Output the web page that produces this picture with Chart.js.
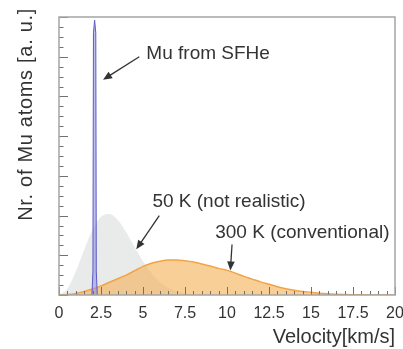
<!DOCTYPE html>
<html>
<head>
<meta charset="utf-8">
<script src="https://cdn.jsdelivr.net/npm/chart.js@4.4.1/dist/chart.umd.min.js"></script>
<style>
  html, body { margin: 0; padding: 0; background: #fff; }
  #wrap { width: 403px; height: 349px; }
</style>
</head>
<body>
<div id="wrap"><canvas id="chart" width="403" height="349"></canvas></div>
<script>
// velocity grid [km/s] (arbitrary units)
const velocities = [0, 0.5, 1, 1.5, 2, 2.5, 3, 3.5, 4, 4.5, 5, 5.5, 6, 6.5, 7, 7.5, 8, 8.5, 9, 9.5,
  10, 10.5, 11, 11.5, 12, 12.5, 13, 13.5, 14, 14.5, 15, 15.5, 16, 16.5, 17, 17.5, 18, 18.5, 19, 19.5, 20];
const counts50K = [0, 0.16, 0.59, 1.14, 1.65, 1.97, 2.04, 1.89, 1.58, 1.21, 0.85, 0.55, 0.33, 0.18, 0.10, 0.05, 0.02, 0, 0, 0,
  0, 0, 0, 0, 0, 0, 0, 0, 0, 0, 0, 0, 0, 0, 0, 0, 0, 0, 0, 0, 0];
const counts300K = [0, 0.01, 0.04, 0.09, 0.15, 0.23, 0.32, 0.41, 0.50, 0.61, 0.72, 0.80, 0.85, 0.88, 0.88, 0.86, 0.83, 0.78, 0.73, 0.67,
  0.62, 0.55, 0.47, 0.40, 0.33, 0.27, 0.21, 0.16, 0.12, 0.09, 0.07, 0.045, 0.03, 0.02, 0.012, 0.007, 0.004, 0.002, 0.001, 0, 0];

// narrow Mu peak from superfluid He
const muVelocities = [1.96, 2.02, 2.05, 2.12, 2.19, 2.22, 2.28];
const muCounts = [0, 0.6, 6.6, 6.92, 6.6, 0.6, 0];

const xTickLabels = ["0", "2.5", "5", "7.5", "10", "12.5", "15", "17.5", "20"];

const textColor = "#333";
const fontName = "'Liberation Sans', Arial, Helvetica, sans-serif";

const toPoints = (xs, ys) => xs.map((v, i) => ({ x: v, y: ys[i] }));

// labels with arrows, placed in data coordinates
const notes = [
  { text: "Mu from SFHe", tx: 5.2, ty: 6.07, from: [4.78, 6.0], to: [2.62, 5.42] },
  { text: "50 K (not realistic)", tx: 5.56, ty: 2.35, from: [5.97, 2.0], to: [4.6, 1.15] },
  { text: "300 K (conventional)", tx: 9.3, ty: 1.57, from: [10.3, 1.27], to: [10.2, 0.62] },
];

const decorPlugin = {
  id: "decor",
  afterDatasetsDraw(chart) {
    const { ctx, chartArea: a, scales: { x, y } } = chart;
    ctx.save();

    // inward tick marks
    ctx.strokeStyle = "#707070";
    ctx.lineWidth = 1;
    for (let v = 0; v <= 20.001; v += 0.5) {
      const px = Math.round(x.getPixelForValue(v)) + 0.5;
      const len = Math.abs(v / 2.5 - Math.round(v / 2.5)) < 1e-6 ? 8 : 4;
      ctx.beginPath();
      ctx.moveTo(px, a.bottom);
      ctx.lineTo(px, a.bottom - len);
      ctx.stroke();
    }
    for (let v = 0; v <= 7.001; v += 0.25) {
      const py = Math.round(y.getPixelForValue(v)) + 0.5;
      const len = Math.abs(v - Math.round(v)) < 1e-6 ? 9 : 4.5;
      ctx.beginPath();
      ctx.moveTo(a.left, py);
      ctx.lineTo(a.left + len, py);
      ctx.stroke();
    }

    // frame
    ctx.strokeStyle = "#a5a5a5";
    ctx.lineWidth = 1.5;
    ctx.strokeRect(a.left, a.top, a.right - a.left, a.bottom - a.top);

    // annotations
    ctx.fillStyle = textColor;
    ctx.strokeStyle = "#333";
    ctx.font = "19px " + fontName;
    ctx.textBaseline = "middle";
    ctx.textAlign = "left";
    notes.forEach(n => {
      ctx.fillText(n.text, x.getPixelForValue(n.tx), y.getPixelForValue(n.ty));
      const x1 = x.getPixelForValue(n.from[0]), y1 = y.getPixelForValue(n.from[1]);
      const x2 = x.getPixelForValue(n.to[0]), y2 = y.getPixelForValue(n.to[1]);
      const ang = Math.atan2(y2 - y1, x2 - x1);
      const head = 9, half = 3.8;
      ctx.lineWidth = 1.3;
      ctx.beginPath();
      ctx.moveTo(x1, y1);
      ctx.lineTo(x2 - Math.cos(ang) * head * 0.8, y2 - Math.sin(ang) * head * 0.8);
      ctx.stroke();
      ctx.beginPath();
      ctx.moveTo(x2, y2);
      ctx.lineTo(x2 - Math.cos(ang) * head - Math.sin(ang) * half, y2 - Math.sin(ang) * head + Math.cos(ang) * half);
      ctx.lineTo(x2 - Math.cos(ang) * head + Math.sin(ang) * half, y2 - Math.sin(ang) * head - Math.cos(ang) * half);
      ctx.closePath();
      ctx.fill();
    });

    // y axis title, right aligned to the top like the original
    ctx.translate(26, 8);
    ctx.rotate(-Math.PI / 2);
    ctx.textAlign = "right";
    ctx.font = "20px " + fontName;
    ctx.letterSpacing = "0.7px";
    ctx.fillText("Nr. of Mu atoms [a. u.]", 0, 0);
    ctx.restore();
  }
};

new Chart(document.getElementById("chart"), {
  type: "line",
  data: {
    datasets: [
      {
        label: "Mu from SFHe",
        data: toPoints(muVelocities, muCounts),
        borderColor: "#5b5bc4",
        backgroundColor: "rgba(140,140,225,0.55)",
        borderWidth: 1,
        fill: "origin",
        tension: 0,
        pointRadius: 0,
        order: 0,
      },
      {
        label: "300 K (conventional)",
        data: toPoints(velocities, counts300K),
        borderColor: "#f2a444",
        backgroundColor: "rgba(245,175,83,0.6)",
        borderWidth: 1.5,
        fill: "origin",
        cubicInterpolationMode: "monotone",
        pointRadius: 0,
        order: 1,
      },
      {
        label: "50 K (not realistic)",
        data: toPoints(velocities, counts50K),
        borderColor: "rgba(0,0,0,0)",
        backgroundColor: "#e9eaea",
        borderWidth: 0,
        fill: "origin",
        cubicInterpolationMode: "monotone",
        pointRadius: 0,
        order: 2,
      },
    ],
  },
  options: {
    responsive: false,
    animation: false,
    layout: { padding: { left: 59, right: 0, top: 17, bottom: 0 } },
    plugins: {
      legend: { display: false },
      tooltip: { enabled: false },
    },
    scales: {
      x: {
        type: "linear",
        min: 0,
        max: 20,
        grid: { display: false, drawTicks: false },
        border: { display: false },
        ticks: {
          stepSize: 2.5,
          padding: 9,
          color: textColor,
          font: { family: fontName, size: 16 },
          maxRotation: 0,
          callback: (v) => xTickLabels[Math.round(v / 2.5)],
        },
        title: {
          display: true,
          text: "Velocity[km/s]",
          align: "end",
          color: textColor,
          font: { family: fontName, size: 20 },
          padding: { top: 0, bottom: 0 },
        },
        afterFit: (scale) => {
          scale.height = 54;
          scale.paddingLeft = 5;
          scale.paddingRight = 8;
        },
      },
      y: {
        display: false,
        min: 0,
        max: 7,
      },
    },
  },
  plugins: [decorPlugin],
});
</script>
</body>
</html>
